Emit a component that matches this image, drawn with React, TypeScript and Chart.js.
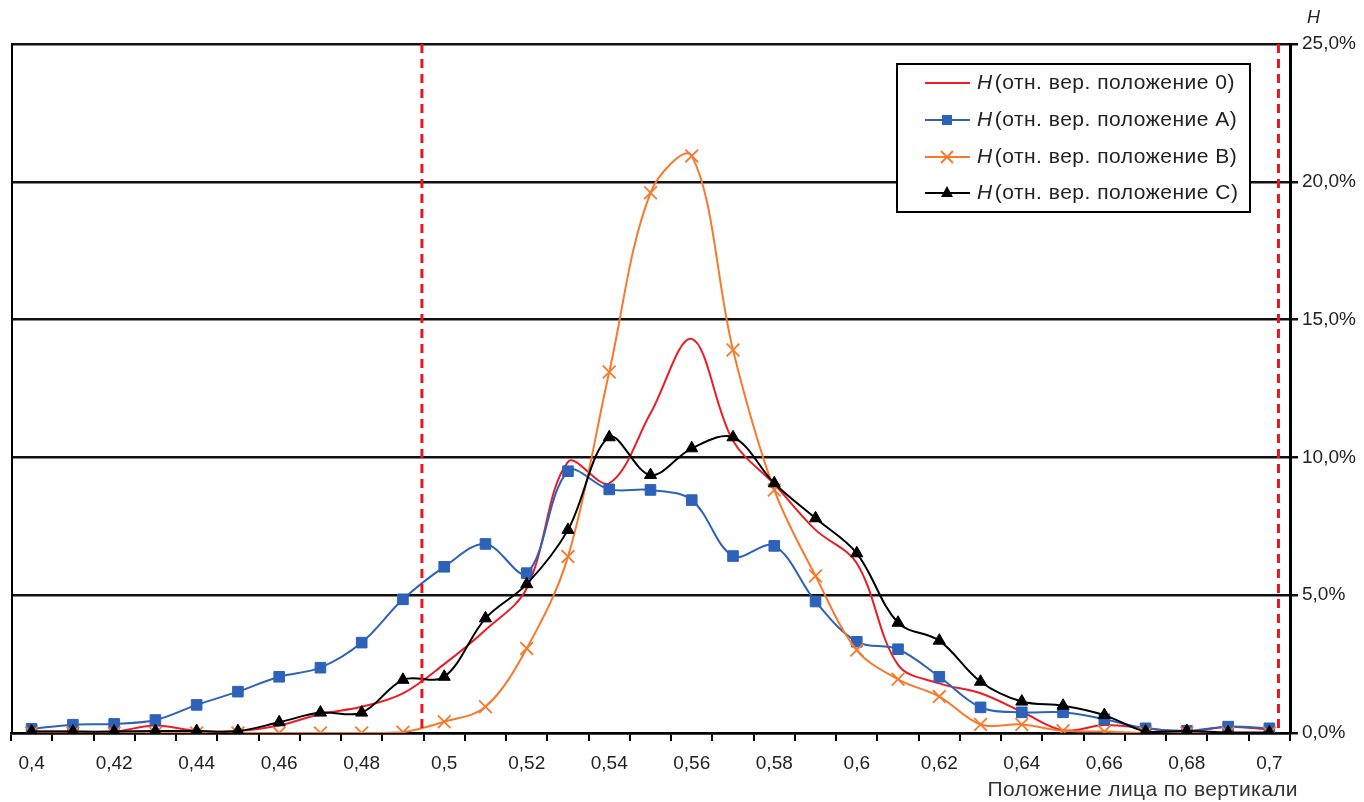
import React, { useEffect, useRef } from 'react';
import { Chart, registerables } from 'chart.js';

Chart.register(...registerables);

// ---- Data ----
const categories = ['0,4', '0,41', '0,42', '0,43', '0,44', '0,45', '0,46', '0,47', '0,48', '0,49', '0,5', '0,51', '0,52', '0,53', '0,54', '0,55', '0,56', '0,57', '0,58', '0,59', '0,6', '0,61', '0,62', '0,63', '0,64', '0,65', '0,66', '0,67', '0,68', '0,69', '0,7'];
const xStart = 0.4;
const xStep = 0.01;

const seriesLabels = ['(отн. вер. положение 0)', '(отн. вер. положение A)', '(отн. вер. положение B)', '(отн. вер. положение C)'];
const series0 = [0.05, 0.05, 0.05, 0.27, 0.07, 0.07, 0.27, 0.69, 0.95, 1.44, 2.5, 3.74, 5.25, 9.84, 9.06, 11.6, 14.3, 10.6, 9.03, 7.37, 6.16, 2.47, 1.8, 1.44, 0.77, 0.1, 0.29, 0.17, 0.05, 0.23, 0.12];
const seriesA = [0.15, 0.3, 0.33, 0.47, 1.02, 1.5, 2.04, 2.37, 3.28, 4.85, 6.03, 6.86, 5.8, 9.5, 8.84, 8.82, 8.45, 6.42, 6.79, 4.77, 3.31, 3.04, 2.04, 0.93, 0.75, 0.75, 0.5, 0.17, 0.08, 0.23, 0.17];
const seriesB = [0, 0, 0, 0, 0, 0, 0, 0, 0, 0.03, 0.41, 0.95, 3.07, 6.4, 13.1, 19.6, 20.94, 13.9, 8.82, 5.7, 3.01, 1.95, 1.32, 0.31, 0.31, 0.08, 0.05, 0, 0, 0, 0];
const seriesC = [0.05, 0.05, 0.05, 0.07, 0.07, 0.07, 0.39, 0.74, 0.74, 1.93, 2.04, 4.16, 5.4, 7.37, 10.73, 9.36, 10.33, 10.73, 9.06, 7.79, 6.52, 4.0, 3.35, 1.86, 1.14, 0.99, 0.65, 0.05, 0.07, 0.02, 0.02];

const yTicks = [0, 5, 10, 15, 20, 25];
const yTickLabels = ['0,0%', '5,0%', '10,0%', '15,0%', '20,0%', '25,0%'];
const limitLines = [0.4946, 0.7022];

const xTitle = 'Положение лица по вертикали';
const yTitle = 'H';

const RED = '#ED1C24';
const BLUE = '#2D62B8';
const ORANGE = '#F7792B';
const BLACK = '#000000';
const FONT = "'Liberation Sans', Arial, sans-serif";
const TEXT = '#222222';

export default function App() {
  const ref = useRef<HTMLCanvasElement>(null);

  useEffect(() => {
    const canvas = ref.current;
    if (!canvas) return;

    const guides = {
      id: 'guides',
      afterDatasetsDraw(chart: any) {
        const { ctx, chartArea, scales } = chart;
        ctx.save();
        ctx.strokeStyle = BLACK;
        ctx.lineWidth = 2;
        ctx.beginPath();
        ctx.moveTo(chartArea.left + 1, chartArea.top);
        ctx.lineTo(chartArea.left + 1, chartArea.bottom);
        ctx.stroke();
        ctx.strokeStyle = '#E8141E';
        ctx.lineWidth = 3;
        ctx.setLineDash([9, 6]);
        limitLines.forEach((v) => {
          const idx = (v - xStart) / xStep;
          const x = scales.x.getPixelForValue(idx);
          ctx.beginPath();
          ctx.moveTo(x, chartArea.top);
          ctx.lineTo(x, chartArea.bottom);
          ctx.stroke();
        });
        ctx.restore();
      },
    };

    const overlay = {
      id: 'overlay',
      afterDraw(chart: any) {
        const { ctx, chartArea } = chart;
        ctx.save();
        ctx.fillStyle = TEXT;
        ctx.font = `italic 18px ${FONT}`;
        ctx.textAlign = 'left';
        ctx.textBaseline = 'middle';
        ctx.fillText(yTitle, chartArea.right + 17, 18);

        ctx.font = `21px ${FONT}`;
        ctx.fillStyle = '#333';
        ctx.textAlign = 'right';
        (ctx as any).letterSpacing = '0.4px';
        ctx.fillText(xTitle, chartArea.right + 8, 790);

        const bx = 897, by = 64, bw = 353, bh = 148;
        ctx.fillStyle = '#fff';
        ctx.fillRect(bx, by, bw, bh);
        ctx.strokeStyle = BLACK;
        ctx.lineWidth = 2;
        ctx.strokeRect(bx, by, bw, bh);
        const colors = [RED, BLUE, ORANGE, BLACK];
        const rows = [83, 120, 157, 193];
        rows.forEach((ry, i) => {
          ctx.strokeStyle = colors[i];
          ctx.lineWidth = 2;
          ctx.beginPath();
          ctx.moveTo(925, ry);
          ctx.lineTo(970, ry);
          ctx.stroke();
          const cx = 947;
          if (i === 1) {
            ctx.fillStyle = BLUE;
            ctx.fillRect(cx - 5, ry - 5, 10, 10);
          } else if (i === 2) {
            ctx.strokeStyle = ORANGE;
            ctx.lineWidth = 1.8;
            ctx.beginPath();
            ctx.moveTo(cx - 6, ry - 6);
            ctx.lineTo(cx + 6, ry + 6);
            ctx.moveTo(cx + 6, ry - 6);
            ctx.lineTo(cx - 6, ry + 6);
            ctx.stroke();
          } else if (i === 3) {
            ctx.fillStyle = BLACK;
            ctx.beginPath();
            ctx.moveTo(cx, ry - 7);
            ctx.lineTo(cx + 6, ry + 4);
            ctx.lineTo(cx - 6, ry + 4);
            ctx.closePath();
            ctx.fill();
          }
          ctx.fillStyle = TEXT;
          ctx.textAlign = 'left';
          ctx.textBaseline = 'middle';
          (ctx as any).letterSpacing = '0.5px';
          ctx.font = `italic 21px ${FONT}`;
          ctx.fillText(yTitle, 977, ry);
          const hw = ctx.measureText(yTitle).width;
          ctx.font = `21px ${FONT}`;
          ctx.fillText(seriesLabels[i], 977 + hw + 2, ry);
        });
        (ctx as any).letterSpacing = '0px';
        ctx.restore();
      },
    };

    const chart = new Chart(canvas, {
      type: 'line',
      data: {
        labels: categories,
        datasets: [
          {
            label: 'H ' + seriesLabels[0],
            data: series0,
            borderColor: RED,
            backgroundColor: RED,
            borderWidth: 2,
            pointRadius: 0,
            tension: 0.35,
            order: 4,
          },
          {
            label: 'H ' + seriesLabels[1],
            data: seriesA,
            borderColor: BLUE,
            backgroundColor: BLUE,
            borderWidth: 2,
            pointStyle: 'rect',
            pointRadius: 7.5,
            pointBorderWidth: 1,
            tension: 0.35,
            order: 3,
          },
          {
            label: 'H ' + seriesLabels[2],
            data: seriesB,
            borderColor: ORANGE,
            backgroundColor: ORANGE,
            borderWidth: 2,
            pointStyle: 'crossRot',
            pointRadius: 9,
            pointBorderWidth: 1.8,
            tension: 0.35,
            order: 2,
          },
          {
            label: 'H ' + seriesLabels[3],
            data: seriesC,
            borderColor: BLACK,
            backgroundColor: BLACK,
            borderWidth: 2,
            pointStyle: 'triangle',
            pointRadius: 7,
            pointBorderWidth: 1,
            tension: 0.35,
            order: 1,
          },
        ],
      },
      options: {
        responsive: false,
        animation: false,
        devicePixelRatio: 1,
        layout: { padding: { left: 11, top: 44, right: 0, bottom: 0 } },
        plugins: {
          legend: { display: false },
          tooltip: { enabled: false },
          title: { display: false },
        },
        scales: {
          x: {
            type: 'category',
            offset: true,
            afterFit(scale: any) {
              scale.height = 69;
            },
            grid: {
              offset: true,
              drawOnChartArea: false,
              drawTicks: true,
              tickLength: 8,
              color: BLACK,
              lineWidth: 2,
            },
            border: { display: true, color: BLACK, width: 2.5 },
            ticks: {
              autoSkip: false,
              maxRotation: 0,
              padding: 11,
              color: TEXT,
              font: { family: FONT, size: 19 },
              callback: (_v: any, i: number) => (i % 2 === 0 ? categories[i] : ''),
            },
          },
          y: {
            position: 'right',
            min: 0,
            max: 25,
            afterFit(scale: any) {
              scale.width = 74;
            },
            afterBuildTicks(scale: any) {
              scale.ticks = yTicks.map((v) => ({ value: v }));
            },
            grid: {
              color: '#111',
              lineWidth: 2.5,
              drawTicks: true,
              tickLength: 8,
            },
            border: { display: true, color: BLACK, width: 3 },
            ticks: {
              padding: 4,
              color: TEXT,
              font: { family: FONT, size: 19 },
              callback: (v: any) => yTickLabels[yTicks.indexOf(Number(v))],
            },
          },
        },
      },
      plugins: [guides, overlay],
    } as any);

    return () => chart.destroy();
  }, []);

  return (
    <div style={{ position: 'fixed', left: 0, top: 0, width: 1364, height: 802, background: '#fff' }}>
      <canvas ref={ref} width={1364} height={802} style={{ display: 'block', width: 1364, height: 802 }} />
    </div>
  );
}
